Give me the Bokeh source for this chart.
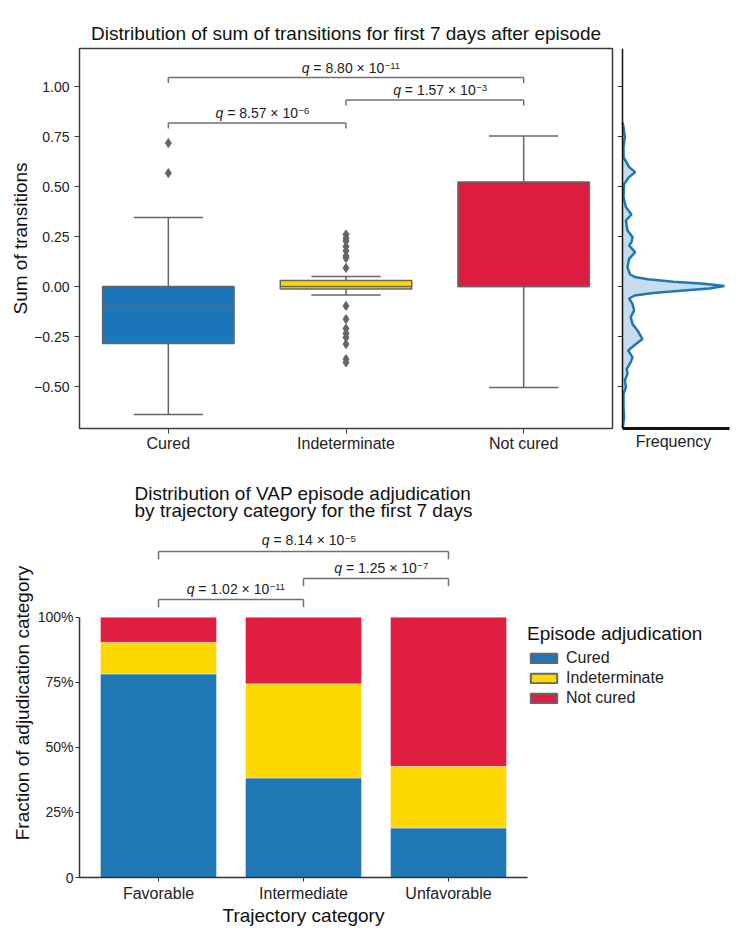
from bokeh.plotting import figure
from bokeh.models import Range1d, FixedTicker, Label, Legend, LegendItem, ColumnDataSource, Span
from bokeh.layouts import column, row
from bokeh.core.properties import value
from bokeh.embed import file_html
from bokeh.resources import INLINE

FONT = "Liberation Sans"

# ---------------- Panel A data ----------------
groups = ["Cured", "Indeterminate", "Not cured"]
group_colors = ["#1a76b9", "#fcd800", "#dc1c3f"]
whisker_low = [-0.64, -0.043, -0.505]
q1 = [-0.285, -0.013, 0.0]
median = [-0.095, 0.0, 0.0]
q3 = [0.0, 0.03, 0.523]
whisker_high = [0.345, 0.05, 0.753]
outliers_cured = [0.717, 0.567]
outliers_indeterminate = [0.26, 0.242, 0.228, 0.2, 0.178, 0.153, 0.142, 0.093,
                          -0.097, -0.163, -0.21, -0.235, -0.255, -0.288, -0.363, -0.38]
outliers_not_cured = []
y_ticks_a = [-0.5, -0.25, 0.0, 0.25, 0.5, 0.75, 1.0]
y_tick_labels_a = ["\u22120.50", "\u22120.25", "0.00", "0.25", "0.50", "0.75", "1.00"]

# marginal density (sum of transitions, relative frequency)
kde_y = [-0.705, -0.653, -0.603, -0.537, -0.503, -0.47, -0.437, -0.412, -0.378, -0.353,
         -0.32, -0.295, -0.262, -0.22, -0.187, -0.153, -0.12, -0.087, -0.06, -0.045,
         -0.032, -0.02, -0.01, 0.002, 0.014, 0.024, 0.036, 0.048, 0.06, 0.072,
         0.097, 0.138, 0.172, 0.205, 0.222, 0.247, 0.28, 0.33, 0.36, 0.397,
         0.447, 0.513, 0.547, 0.572, 0.597, 0.647, 0.697, 0.747, 0.797, 0.82]
kde_density = [0.003, 0.016, 0.01, 0.01, 0.033, 0.023, 0.049, 0.042, 0.081, 0.098,
               0.055, 0.114, 0.195, 0.147, 0.098, 0.081, 0.114, 0.098, 0.065, 0.12,
               0.3, 0.6, 0.85, 1.0, 0.8, 0.5, 0.25, 0.12, 0.075, 0.065,
               0.049, 0.065, 0.124, 0.065, 0.088, 0.098, 0.049, 0.033, 0.088, 0.033,
               0.01, 0.016, 0.065, 0.124, 0.065, 0.01, 0.01, 0.023, 0.01, 0.0]

q_pairs_a = [(0, 1), (1, 2), (0, 2)]
q_levels_a = [0.818, 0.933, 1.045]
q_mantissa_a = ["8.57", "1.57", "8.80"]
q_exponent_a = ["\u22126", "\u22123", "\u221211"]

# ---------------- Panel B data ----------------
trajectories = ["Favorable", "Intermediate", "Unfavorable"]
adjudications = ["Cured", "Indeterminate", "Not cured"]
frac_cured = [0.782, 0.382, 0.19]
frac_indeterminate = [0.122, 0.362, 0.237]
frac_not_cured = [0.096, 0.256, 0.573]
y_ticks_b = [0, 0.25, 0.5, 0.75, 1.0]
y_tick_labels_b = ["0", "25%", "50%", "75%", "100%"]

q_pairs_b = [(0, 1), (1, 2), (0, 2)]
q_levels_b = [1.068, 1.149, 1.253]
q_mantissa_b = ["1.02", "1.25", "8.14"]
q_exponent_b = ["\u221211", "\u22127", "\u22125"]

GREY = "#666666"
TXT = "#222222"

# Arial-metric advance widths (em) used to lay out the composite q-labels
ADV = {c: 0.556 for c in "0123456789"}
ADV.update({".": 0.278, " ": 0.278, "=": 0.584, "\u00d7": 0.584, "\u2212": 0.584, "q": 0.556})


def tw(s, fs):
    return sum(ADV.get(c, 0.556) for c in s) * fs


def add_brackets(p, pairs, levels, mantissas, exponents, drop, gap, fs=14, efs=9.5):
    hx0, hx1, hy = [], [], []
    vx, vy0, vy1 = [], [], []
    cx, cy, rest, oq, orr, oe = [], [], [], [], [], []
    for (a, b), lvl, m, e in zip(pairs, levels, mantissas, exponents):
        hx0.append(a); hx1.append(b); hy.append(lvl)
        for xx in (a, b):
            vx.append(xx); vy0.append(lvl); vy1.append(lvl - drop)
        cx.append((a + b) / 2); cy.append(lvl + gap)
        r = "= " + m + " \u00d7 10"
        rest.append(r)
        wq, wsp, wr, we = tw("q", fs), tw(" ", fs), tw(r, fs), tw(e, efs)
        left = -(wq + wsp + wr + we) / 2 + 5
        oq.append(left)
        orr.append(left + wq + wsp)
        oe.append(left + wq + wsp + wr + 0.5)
    p.segment(x0=hx0, x1=hx1, y0=hy, y1=hy, line_color="#707070", line_width=1.5)
    p.segment(x0=vx, x1=vx, y0=vy0, y1=vy1, line_color="#707070", line_width=1.5)
    src = ColumnDataSource(dict(x=cx, y=cy, q=["q"] * len(cx), r=rest, e=exponents,
                                oq=oq, orr=orr, oe=oe))
    common = dict(y="y", source=src, text_align="left", text_font=value(FONT), text_color=TXT)
    p.text(x="x", text="q", x_offset="oq", text_baseline="middle",
           text_font_size=value(f"{fs}px"), text_font_style="italic", **common)
    p.text(x="x", text="r", x_offset="orr", text_baseline="middle",
           text_font_size=value(f"{fs}px"), **common)
    p.text(x="x", text="e", x_offset="oe", y_offset=-1.5, text_baseline="alphabetic",
           text_font_size=value(f"{efs}px"), **common)


# ---------------- Panel A: box plot ----------------
pos = list(range(len(groups)))
yr = Range1d(-0.71, 1.19)
pA = figure(frame_width=533, frame_height=380, x_range=Range1d(-0.5, 2.5), y_range=yr,
            output_backend="svg", toolbar_location=None,
            min_border_left=79, min_border_right=5, min_border_top=48, min_border_bottom=35)
pA.grid.visible = False
pA.outline_line_color = "#3c3c3c"
pA.outline_line_width = 1.5
pA.title.text = "Distribution of sum of transitions for first 7 days after episode"
pA.title.align = "center"
pA.title.text_font = FONT
pA.title.text_font_size = "19px"
pA.title.text_font_style = "normal"
pA.title.text_color = "#111111"

box_w = 0.74
cap_w = 0.39
pA.segment(x0=pos, x1=pos, y0=whisker_low, y1=q1, line_color=GREY, line_width=1.5)
pA.segment(x0=pos, x1=pos, y0=q3, y1=whisker_high, line_color=GREY, line_width=1.5)
pA.segment(x0=[x - cap_w / 2 for x in pos], x1=[x + cap_w / 2 for x in pos],
           y0=whisker_low, y1=whisker_low, line_color=GREY, line_width=1.5)
pA.segment(x0=[x - cap_w / 2 for x in pos], x1=[x + cap_w / 2 for x in pos],
           y0=whisker_high, y1=whisker_high, line_color=GREY, line_width=1.5)
pA.vbar(x=pos, width=box_w, bottom=q1, top=q3, fill_color=group_colors,
        line_color=GREY, line_width=1.5)
pA.segment(x0=[x - box_w / 2 for x in pos], x1=[x + box_w / 2 for x in pos],
           y0=median, y1=median, line_color=GREY, line_width=1.5)
out_x, out_y = [], []
for i, outs in enumerate([outliers_cured, outliers_indeterminate, outliers_not_cured]):
    out_x += [pos[i]] * len(outs)
    out_y += outs
pA.scatter(out_x, out_y, marker="diamond", size=9, fill_color=GREY, line_color=GREY)

add_brackets(pA, q_pairs_a, q_levels_a, q_mantissa_a, q_exponent_a, drop=0.028, gap=0.05)

pA.xaxis.ticker = FixedTicker(ticks=pos)
pA.xaxis.major_label_overrides = {i: g for i, g in enumerate(groups)}
pA.yaxis.ticker = FixedTicker(ticks=y_ticks_a)
pA.yaxis.major_label_overrides = {t: l for t, l in zip(y_ticks_a, y_tick_labels_a)}
pA.yaxis.axis_label = "Sum of transitions"
for ax in (pA.xaxis[0], pA.yaxis[0]):
    ax.axis_line_color = None
    ax.minor_tick_line_color = None
    ax.major_tick_in = 0
    ax.major_tick_out = 5
    ax.major_tick_line_color = "#3c3c3c"
    ax.major_label_text_font = FONT
    ax.major_label_text_color = TXT
    ax.axis_label_text_font = FONT
    ax.axis_label_text_font_style = "normal"
    ax.axis_label_text_color = "#111111"
    ax.axis_label_text_font_size = "19px"
pA.xaxis.major_label_text_font_size = "16px"
pA.yaxis.major_label_text_font_size = "14px"
pA.xaxis.major_label_standoff = 1
pA.yaxis.major_label_standoff = 5
pA.yaxis.axis_label_standoff = 0

pA.add_layout(Label(x=-0.91, y=1.27, text="A", text_font=FONT, text_font_size="22px",
                    text_font_style="bold", text_baseline="middle", text_color="#000000"))

# ---------------- Marginal frequency panel ----------------
kde_px_per_unit = 102.0
pK = figure(frame_width=112, frame_height=380,
            x_range=Range1d(-5 / kde_px_per_unit, 107 / kde_px_per_unit), y_range=yr,
            output_backend="svg", toolbar_location=None, y_axis_location=None,
            min_border_left=0, min_border_right=5, min_border_top=48, min_border_bottom=35)
pK.grid.visible = False
pK.outline_line_color = None
pK.harea(y=kde_y, x1=[0] * len(kde_y), x2=kde_density, fill_color="#1f77b4", fill_alpha=0.25)
pK.line(kde_density, kde_y, line_color="#1f77b4", line_width=2.5)
pK.add_layout(Span(location=0, dimension="height", line_color="#111111", line_width=1.5))
pK.segment(x0=[-5 / kde_px_per_unit] * len(y_ticks_a), x1=[0] * len(y_ticks_a),
           y0=y_ticks_a, y1=y_ticks_a, line_color="#333333", line_width=1)
pK.xaxis.ticker = FixedTicker(ticks=[])
pK.xaxis.bounds = (0, 107 / kde_px_per_unit)
pK.xaxis.major_tick_in = 0
pK.xaxis.major_tick_out = 0
pK.xaxis.minor_tick_line_color = None
pK.xaxis.axis_line_color = "#111111"
pK.xaxis.axis_line_width = 3
pK.xaxis.axis_label = "Frequency"
pK.xaxis.axis_label_text_font = FONT
pK.xaxis.axis_label_text_font_size = "16px"
pK.xaxis.axis_label_text_font_style = "normal"
pK.xaxis.axis_label_text_color = TXT
pK.xaxis.axis_label_standoff = 4

# ---------------- Panel B: stacked bars ----------------
bar_colors = ["#1f77b4", "#fcd800", "#e01e3f"]
bpos = list(range(len(trajectories)))
pB = figure(frame_width=448, frame_height=349, x_range=Range1d(-0.545, 2.545),
            y_range=Range1d(0, 1.341), output_backend="svg", toolbar_location=None,
            min_border_left=79, min_border_right=207, min_border_top=65, min_border_bottom=50)
pB.grid.visible = False
pB.outline_line_color = None
pB.title.text = "Distribution of VAP episode adjudication\nby trajectory category for the first 7 days"
pB.title.align = "center"
pB.title.text_font = FONT
pB.title.text_font_size = "19px"
pB.title.text_font_style = "normal"
pB.title.text_color = "#111111"
pB.title.text_line_height = 0.85
pB.title.standoff = 14

src = ColumnDataSource(dict(x=bpos, cured=frac_cured, indeterminate=frac_indeterminate,
                            not_cured=frac_not_cured))
pB.vbar_stack(["cured", "indeterminate", "not_cured"], x="x", width=0.8, color=bar_colors,
              source=src, line_color="white", line_width=0.6, line_alpha=0.6)

add_brackets(pB, q_pairs_b, q_levels_b, q_mantissa_b, q_exponent_b, drop=0.03, gap=0.042)

pB.xaxis.ticker = FixedTicker(ticks=bpos)
pB.xaxis.major_label_overrides = {i: t for i, t in enumerate(trajectories)}
pB.yaxis.ticker = FixedTicker(ticks=y_ticks_b)
pB.yaxis.major_label_overrides = {t: l for t, l in zip(y_ticks_b, y_tick_labels_b)}
pB.yaxis.bounds = (0, 1)
pB.xaxis.axis_label = "Trajectory category"
pB.yaxis.axis_label = "Fraction of adjudication category"
for ax in (pB.xaxis[0], pB.yaxis[0]):
    ax.axis_line_color = "#333333"
    ax.axis_line_width = 1.5
    ax.minor_tick_line_color = None
    ax.major_tick_in = 0
    ax.major_tick_out = 4
    ax.major_tick_line_color = "#333333"
    ax.major_label_text_font = FONT
    ax.major_label_text_color = TXT
    ax.axis_label_text_font = FONT
    ax.axis_label_text_font_style = "normal"
    ax.axis_label_text_color = "#111111"
    ax.axis_label_text_font_size = "19px"
pB.xaxis.major_label_text_font_size = "16px"
pB.yaxis.major_label_text_font_size = "14px"
pB.xaxis.major_label_standoff = 3
pB.yaxis.major_label_standoff = 2
pB.xaxis.axis_label_standoff = 0
pB.yaxis.axis_label_standoff = 2

pB.add_layout(Label(x=-1.05, y=1.495, text="B", text_font=FONT, text_font_size="22px",
                    text_font_style="bold", text_baseline="middle", text_color="#000000"))

nan = float("nan")
items = []
for name, col in zip(adjudications, bar_colors):
    r = pB.rect(x=[nan], y=[nan], width=0.1, height=0.1, fill_color=col, line_color="#666666",
                line_width=2)
    items.append(LegendItem(label=name, renderers=[r]))
legend = Legend(items=items, title="Episode adjudication", location=(0, 170),
                title_text_font=FONT, title_text_font_size="19px", title_text_font_style="normal",
                title_text_color="#111111", title_standoff=4,
                label_text_font=FONT, label_text_font_size="16px", label_text_color=TXT,
                glyph_width=33, glyph_height=12, label_height=17, spacing=2,
                label_standoff=6, padding=1, margin=0, border_line_color=None,
                background_fill_alpha=0)
pB.add_layout(legend, "right")

layout = column(row(pA, pK), pB)
open("out.html", "w").write(file_html(layout, INLINE))
